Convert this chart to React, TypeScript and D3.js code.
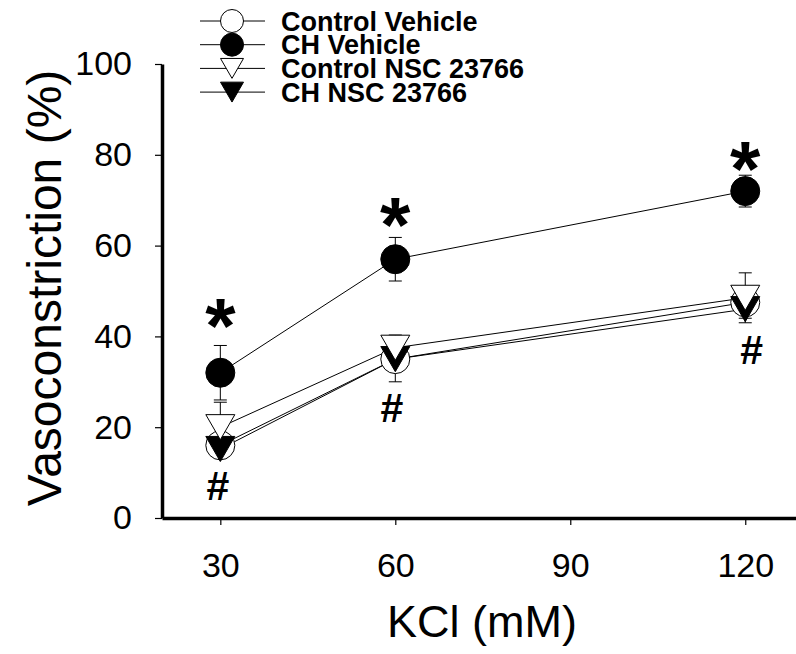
import { useEffect, useRef } from 'react';
import * as d3 from 'd3';

const kcl = [30, 60, 120];
const xTicks = [30, 60, 90, 120];
const yTicks = [0, 20, 40, 60, 80, 100];

const controlVehicle = [16, 35, 47.5];
const controlVehicleErr = [2, 5, 2];
const chVehicle = [32, 57, 72];
const chVehicleErr = [6, 4.8, 3.5];
const controlNsc = [20, 37.5, 48.5];
const controlNscErr = [5.5, 2.8, 5.5];
const chNsc = [15.2, 35, 46];
const chNscErr = [2, 2, 2];

// annotation positions (data units)
const starLevel = [44.5, 66.7, 78.9];
const hashX = [29.6, 59.4, 121.1];
const hashLevel = [7.3, 24.5, 37.2];

type Series = {
  name: string;
  values: number[];
  err: number[];
  shape: 'circle' | 'triangle';
  fill: string;
};

// drawing order follows the original: open triangle sits on top of the filled one
const series: Series[] = [
  { name: 'Control Vehicle', values: controlVehicle, err: controlVehicleErr, shape: 'circle', fill: '#fff' },
  { name: 'CH Vehicle', values: chVehicle, err: chVehicleErr, shape: 'circle', fill: '#000' },
  { name: 'CH NSC 23766', values: chNsc, err: chNscErr, shape: 'triangle', fill: '#000' },
  { name: 'Control NSC 23766', values: controlNsc, err: controlNscErr, shape: 'triangle', fill: '#fff' },
];

const legendOrder = ['Control Vehicle', 'CH Vehicle', 'Control NSC 23766', 'CH NSC 23766'];

const FONT = '"Liberation Sans", Arial, sans-serif';

function trianglePath(w: number) {
  const h = (w * Math.sqrt(3)) / 2;
  return `M${-w / 2},${-h / 2}L${w / 2},${-h / 2}L0,${h / 2}Z`;
}

export default function App() {
  const svgRef = useRef<SVGSVGElement>(null);

  useEffect(() => {
    if (!svgRef.current) return;
    const svg = d3.select(svgRef.current);
    svg.selectAll('*').remove();

    const x = d3.scaleLinear().domain([20, 128.7]).range([162, 796]);
    const y = d3.scaleLinear().domain([0, 100]).range([518, 64]);

    const drawMarker = (g: d3.Selection<SVGGElement, unknown, null, undefined>, s: Series, cx: number, cy: number, size: number) => {
      if (s.shape === 'circle') {
        g.append('circle')
          .attr('cx', cx).attr('cy', cy).attr('r', size / 2)
          .attr('fill', s.fill).attr('stroke', '#000').attr('stroke-width', 1);
      } else {
        g.append('path')
          .attr('d', trianglePath(size))
          .attr('transform', `translate(${cx},${cy})`)
          .attr('fill', s.fill).attr('stroke', '#000').attr('stroke-width', 1);
      }
    };

    // axes
    const xAxis = svg.append('g').attr('transform', `translate(0,${y(0)})`)
      .call(d3.axisBottom(x).tickValues(xTicks).tickSize(7).tickSizeOuter(0).tickPadding(28));
    xAxis.select('.domain').attr('stroke-width', 3.5);
    xAxis.selectAll('.tick line').attr('stroke-width', 1.2);
    xAxis.selectAll('.tick text').attr('font-size', 34).attr('font-family', FONT).attr('fill', '#000');

    const yAxis = svg.append('g').attr('transform', `translate(${x(20)},0)`)
      .call(d3.axisLeft(y).tickValues(yTicks).tickSize(7).tickSizeOuter(0).tickPadding(23));
    yAxis.select('.domain').attr('stroke-width', 3.5);
    yAxis.selectAll('.tick line').attr('stroke-width', 1.2);
    yAxis.selectAll('.tick text').attr('font-size', 34).attr('font-family', FONT).attr('fill', '#000');

    // axis titles
    svg.append('text')
      .attr('x', 482).attr('y', 637)
      .attr('text-anchor', 'middle')
      .attr('font-family', FONT).attr('font-size', 45)
      .text('KCl (mM)');
    svg.append('text')
      .attr('transform', `translate(61,288) rotate(-90)`)
      .attr('text-anchor', 'middle')
      .attr('font-family', FONT).attr('font-size', 48)
      .text('Vasoconstriction (%)');

    const plot = svg.append('g');

    const line = d3.line<number>()
      .x((_, i) => x(kcl[i]))
      .y(d => y(d));

    series.forEach(s => {
      plot.append('path')
        .datum(s.values)
        .attr('fill', 'none')
        .attr('stroke', '#000')
        .attr('stroke-width', 1)
        .attr('d', line);
    });

    // error bars
    series.forEach(s => {
      s.values.forEach((v, i) => {
        const cx = x(kcl[i]);
        const top = y(v + s.err[i]);
        const bot = y(v - s.err[i]);
        plot.append('line').attr('x1', cx).attr('x2', cx).attr('y1', top).attr('y2', bot)
          .attr('stroke', '#000').attr('stroke-width', 1);
        [top, bot].forEach(yy => {
          plot.append('line').attr('x1', cx - 6.5).attr('x2', cx + 6.5).attr('y1', yy).attr('y2', yy)
            .attr('stroke', '#000').attr('stroke-width', 1);
        });
      });
    });

    // markers
    series.forEach(s => {
      s.values.forEach((v, i) => drawMarker(plot, s, x(kcl[i]), y(v), 29));
    });

    // significance marks
    const marks = svg.append('g');
    const starSize = 78;
    kcl.forEach((k, i) => {
      marks.append('text')
        .attr('x', x(k)).attr('y', y(starLevel[i]) + 0.47 * starSize)
        .attr('text-anchor', 'middle')
        .attr('font-family', FONT).attr('font-weight', 'bold').attr('font-size', starSize)
        .text('*');
      marks.append('text')
        .attr('x', x(hashX[i])).attr('y', y(hashLevel[i]) + 15)
        .attr('text-anchor', 'middle')
        .attr('font-family', FONT).attr('font-weight', 'bold').attr('font-size', 41)
        .text('#');
    });

    // legend
    const legend = svg.append('g');
    legendOrder.forEach((name, i) => {
      const s = series.find(d => d.name === name)!;
      const ly = 21 + i * 23.7;
      legend.append('line').attr('x1', 200).attr('x2', 265).attr('y1', ly).attr('y2', ly)
        .attr('stroke', '#000').attr('stroke-width', 1);
      drawMarker(legend, s, 232, ly, 23);
      legend.append('text')
        .attr('x', 281).attr('y', ly + 9.5)
        .attr('font-family', FONT).attr('font-weight', 'bold').attr('font-size', 27)
        .text(name);
    });
  }, []);

  return (
    <div style={{ position: 'absolute', left: 0, top: 0 }}>
      <svg ref={svgRef} width={796} height={654} style={{ display: 'block', background: '#fff' }} />
    </div>
  );
}
